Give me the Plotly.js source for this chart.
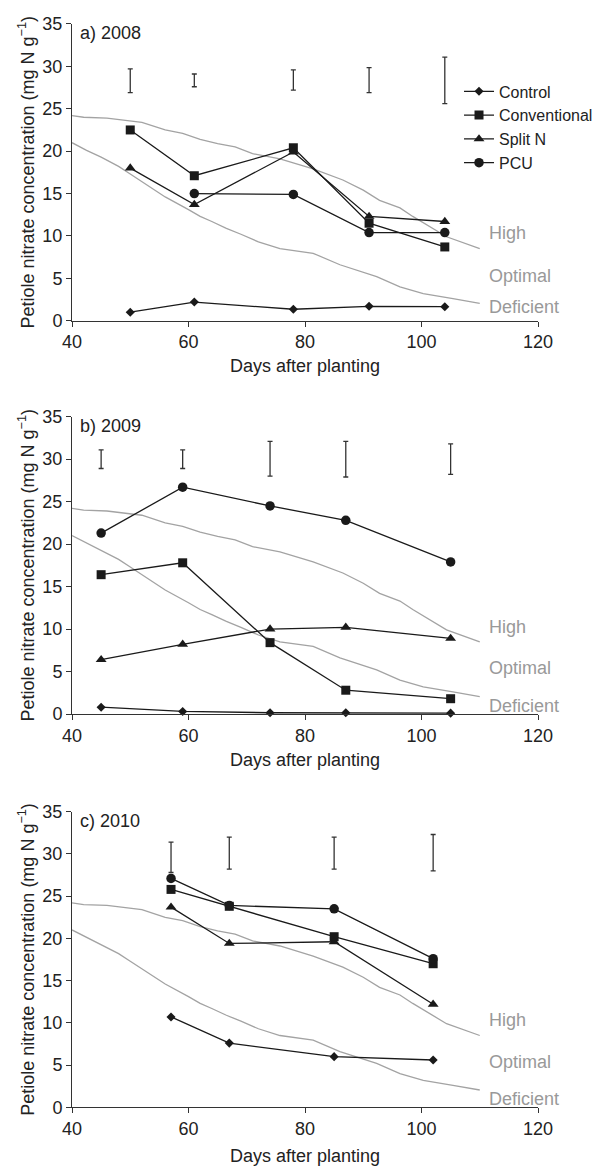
<!DOCTYPE html>
<html><head><meta charset="utf-8">
<script src="https://cdn.plot.ly/plotly-3.0.1.min.js"></script>
<style>html,body{margin:0;padding:0;background:#fff}</style>
</head><body><div id="chart" style="width:610px;height:1166px"></div>
<script>
// ---------- data ----------
const xTicks = [40, 60, 80, 100, 120];
const yTicks = [0, 5, 10, 15, 20, 25, 30, 35];
const seriesNames = ['Control', 'Conventional', 'Split N', 'PCU'];
const panelTitles = ['a) 2008', 'b) 2009', 'c) 2010'];
const zoneLabels = ['High', 'Optimal', 'Deficient'];

// critical curves (same in every panel)
const highCurveX = [40, 42, 46, 52, 56, 59, 62, 65, 68, 71, 75.7, 81.4, 86.5, 90, 92.8, 96.3, 98.5, 101.4, 104.3, 110];
const highCurveY = [24.2, 24.0, 23.9, 23.4, 22.5, 22.1, 21.4, 20.9, 20.5, 19.7, 19.1, 17.9, 16.6, 15.4, 14.2, 13.3, 12.3, 11.1, 9.9, 8.5];
const lowCurveX = [40, 42.5, 45, 48, 50, 52, 56, 60, 62, 64, 66.5, 69, 72, 75.7, 81.4, 86, 92.3, 96.3, 100.3, 105.4, 110];
const lowCurveY = [21.0, 20.1, 19.3, 18.2, 17.3, 16.4, 14.6, 13.1, 12.3, 11.7, 10.9, 10.2, 9.3, 8.5, 7.95, 6.6, 5.2, 4.0, 3.2, 2.6, 2.05];

// 2008
const days2008 = [50, 61, 78, 91, 104];
const control2008 = [1.0, 2.2, 1.35, 1.7, 1.65];
const conventional2008 = [22.5, 17.1, 20.4, 11.5, 8.7];
const splitN2008 = [18.0, 13.7, 19.9, 12.3, 11.7];
const pcuDays2008 = [61, 78, 91, 104];
const pcu2008 = [15.0, 14.9, 10.4, 10.4];
const lsdTop2008 = [29.7, 29.1, 29.6, 29.85, 31.1];
const lsdBottom2008 = [26.9, 27.6, 27.2, 26.9, 25.6];

// 2009
const days2009 = [45, 59, 74, 87, 105];
const control2009 = [0.8, 0.3, 0.15, 0.15, 0.1];
const conventional2009 = [16.4, 17.8, 8.4, 2.8, 1.8];
const splitN2009 = [6.4, 8.2, 10.0, 10.2, 8.9];
const pcu2009 = [21.3, 26.7, 24.5, 22.8, 17.9];
const lsdTop2009 = [31.1, 31.1, 32.1, 32.1, 31.8];
const lsdBottom2009 = [28.9, 28.9, 28.0, 27.9, 28.2];

// 2010
const days2010 = [57, 67, 85, 102];
const control2010 = [10.7, 7.6, 6.0, 5.6];
const conventional2010 = [25.8, 23.8, 20.2, 17.0];
const splitN2010 = [23.7, 19.4, 19.6, 12.2];
const pcu2010 = [27.1, 23.9, 23.5, 17.6];
const lsdTop2010 = [31.4, 32.0, 32.0, 32.3];
const lsdBottom2010 = [27.8, 28.2, 28.2, 28.0];

// ---------- build ----------
const panels = [
  {xa: 'x', ya: 'y', lsdX: days2008, lsdTop: lsdTop2008, lsdBottom: lsdBottom2008,
   series: [[days2008, control2008], [days2008, conventional2008], [days2008, splitN2008], [pcuDays2008, pcu2008]],
   labelY: [10.3, 5.3, 1.6]},
  {xa: 'x2', ya: 'y2', lsdX: days2009, lsdTop: lsdTop2009, lsdBottom: lsdBottom2009,
   series: [[days2009, control2009], [days2009, conventional2009], [days2009, splitN2009], [days2009, pcu2009]],
   labelY: [10.3, 5.4, 1.0]},
  {xa: 'x3', ya: 'y3', lsdX: days2010, lsdTop: lsdTop2010, lsdBottom: lsdBottom2010,
   series: [[days2010, control2010], [days2010, conventional2010], [days2010, splitN2010], [days2010, pcu2010]],
   labelY: [10.3, 5.4, 1.0]}
];
const symbols = ['diamond', 'square', 'triangle-up', 'circle'];
const sizes = [7, 9, 9.5, 9.5];
const ink = '#1a1a1a';
const grey = '#a3a3a3';

const traces = [];
panels.forEach((p, pi) => {
  traces.push({x: highCurveX, y: highCurveY, xaxis: p.xa, yaxis: p.ya, mode: 'lines',
    line: {color: grey, width: 1.3}, showlegend: false, hoverinfo: 'skip'});
  traces.push({x: lowCurveX, y: lowCurveY, xaxis: p.xa, yaxis: p.ya, mode: 'lines',
    line: {color: grey, width: 1.3}, showlegend: false, hoverinfo: 'skip'});
  const mid = p.lsdTop.map((t, i) => (t + p.lsdBottom[i]) / 2);
  const half = p.lsdTop.map((t, i) => (t - p.lsdBottom[i]) / 2);
  traces.push({x: p.lsdX, y: mid, xaxis: p.xa, yaxis: p.ya, mode: 'markers',
    marker: {size: 1, color: 'rgba(0,0,0,0)'}, showlegend: false, hoverinfo: 'skip',
    error_y: {type: 'data', array: half, symmetric: true, color: '#333', thickness: 1.3, width: 2.5}});
  p.series.forEach((s, si) => {
    traces.push({x: s[0], y: s[1], xaxis: p.xa, yaxis: p.ya, name: seriesNames[si],
      mode: 'lines+markers', cliponaxis: false,
      line: {color: ink, width: 1.3},
      marker: {symbol: symbols[si], size: sizes[si], color: ink},
      showlegend: pi === 0, legendgroup: seriesNames[si]});
  });
});

const font = 'Liberation Sans, Arial, Helvetica, sans-serif';
function xAxis(anchor, standoff) {
  return {domain: [0, 1], anchor: anchor, range: [40, 120], tickmode: 'array', tickvals: xTicks,
    ticks: 'outside', ticklen: 5, tickwidth: 1, tickcolor: '#333', showline: true, linecolor: '#333',
    linewidth: 1, showgrid: false, zeroline: false, tickfont: {size: 18, color: '#222'},
    title: {text: 'Days after planting', font: {size: 18, color: '#222'}, standoff: standoff},
    automargin: false, fixedrange: true};
}
function yAxis(anchor, domain) {
  return {domain: domain, anchor: anchor, range: [0, 35], tickmode: 'array', tickvals: yTicks,
    ticks: 'outside', ticklen: 5, tickwidth: 1, tickcolor: '#333', showline: true, linecolor: '#333',
    linewidth: 1, showgrid: false, zeroline: false, tickfont: {size: 18, color: '#222'},
    title: {text: 'Petiole nitrate concentration (mg N g<sup>\u22121</sup>)', font: {size: 18, color: '#222'}, standoff: 3},
    automargin: false, fixedrange: true};
}

const annotations = [];
panels.forEach((p, pi) => {
  annotations.push({xref: p.xa, yref: p.ya, x: 41, y: 33.9, xanchor: 'left', yanchor: 'middle',
    text: panelTitles[pi], showarrow: false, font: {size: 18, color: '#222'}});
  zoneLabels.forEach((t, li) => {
    annotations.push({xref: p.xa, yref: p.ya, x: 111.3, y: p.labelY[li], xanchor: 'left', yanchor: 'middle',
      text: t, showarrow: false, font: {size: 18, color: '#999'}});
  });
});

const layout = {
  width: 610, height: 1166,
  margin: {l: 72, r: 72, t: 0, b: 0},
  paper_bgcolor: '#fff', plot_bgcolor: '#fff',
  font: {family: font, color: '#222'},
  showlegend: true,
  legend: {x: 0.8305, y: 0.9362, xanchor: 'left', yanchor: 'top', font: {size: 16, color: '#222'},
    bgcolor: 'rgba(0,0,0,0)', borderwidth: 0, tracegroupgap: 0, itemsizing: 'trace'},
  xaxis: xAxis('y', 8),
  yaxis: yAxis('x', [0.72496, 0.97942]),
  xaxis2: xAxis('y2', 8),
  yaxis2: yAxis('x2', [0.38765, 0.64262]),
  xaxis3: xAxis('y3', 15),
  yaxis3: yAxis('x3', [0.05034, 0.30386]),
  annotations: annotations
};

Plotly.newPlot('chart', traces, layout, {displayModeBar: false, staticPlot: true});
</script></body></html>
